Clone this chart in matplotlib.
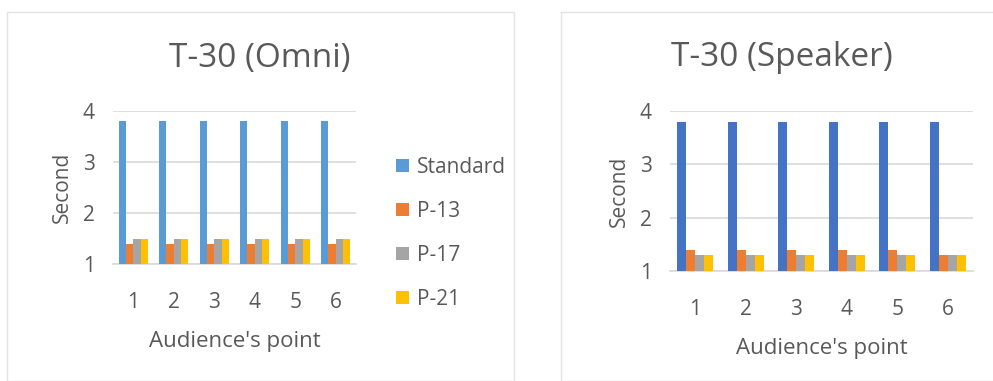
import matplotlib
matplotlib.use("Agg")
import matplotlib.pyplot as plt
import numpy as np
from matplotlib.patches import Rectangle

# ── Data ──────────────────────────────────────────────────────────────────────
points = ["1", "2", "3", "4", "5", "6"]
series = ["Standard", "P-13", "P-17", "P-21"]

omni_standard = [3.8, 3.8, 3.8, 3.8, 3.8, 3.8]
omni_p13 = [1.4, 1.4, 1.4, 1.4, 1.4, 1.4]
omni_p17 = [1.5, 1.5, 1.5, 1.5, 1.5, 1.5]
omni_p21 = [1.5, 1.5, 1.5, 1.5, 1.5, 1.5]

spk_standard = [3.8, 3.8, 3.8, 3.8, 3.8, 3.8]
spk_p13 = [1.4, 1.4, 1.4, 1.4, 1.4, 1.3]
spk_p17 = [1.3, 1.3, 1.3, 1.3, 1.3, 1.3]
spk_p21 = [1.3, 1.3, 1.3, 1.3, 1.3, 1.3]

# ── Style ─────────────────────────────────────────────────────────────────────
plt.rcParams["font.family"] = ["Open Sans", "DejaVu Sans"]
TXT = "#595959"
GRID = "#D9D9D9"
omni_colors = ["#5B9BD5", "#ED7D31", "#A5A5A5", "#FFC000"]
spk_colors = ["#4472C4", "#ED7D31", "#A5A5A5", "#FFC000"]

W, H = 993, 381
fig = plt.figure(figsize=(W / 100, H / 100), dpi=100)


def px_axes(x0, x1, ytop, ybot):
    return fig.add_axes([x0 / W, 1 - ybot / H, (x1 - x0) / W, (ybot - ytop) / H])


# chart frames
fig.patches.append(Rectangle((7 / W, 0), (514 - 7) / W, 1 - 12 / H,
                             transform=fig.transFigure, fill=False,
                             edgecolor="#E3E3E3", linewidth=1.0))
fig.patches.append(Rectangle((561 / W, 0), (1100 - 561) / W, 1 - 12 / H,
                             transform=fig.transFigure, fill=False,
                             edgecolor="#E3E3E3", linewidth=1.0))


def draw_panel(ax, values, colors, tickpad, labelpad):
    x = np.arange(len(points))
    w = 0.18
    bars = []
    for i, (vals, c) in enumerate(zip(values, colors)):
        heights = np.array(vals) - 1
        b = ax.bar(x + (i - 1.5) * w, heights, w, bottom=1, color=c,
                   linewidth=0, zorder=3, label=series[i])
        bars.append(b)
    ax.set_xlim(-0.5, len(points) - 0.5)
    ax.set_ylim(1, 4)
    ax.set_yticks([1, 2, 3, 4])
    ax.set_xticks(x)
    ax.set_xticklabels(points)
    ax.grid(axis="y", color=GRID, linewidth=1.2, zorder=0)
    for s in ["top", "right", "left"]:
        ax.spines[s].set_visible(False)
    ax.spines["bottom"].set_color(GRID)
    ax.spines["bottom"].set_linewidth(1.2)
    ax.tick_params(length=0, labelsize=15, colors=TXT)
    ax.tick_params(axis="x", pad=tickpad)
    ax.tick_params(axis="y", pad=13)
    ax.set_ylabel("Second", fontsize=15, color=TXT, labelpad=7)
    ax.set_xlabel("Audience's point", fontsize=16, color=TXT, labelpad=labelpad)
    return bars


ax1 = px_axes(113, 356, 111, 264)
bars = draw_panel(ax1, [omni_standard, omni_p13, omni_p17, omni_p21],
                  omni_colors, tickpad=20, labelpad=13)
fig.text(260 / W, 1 - 58 / H, "T-30 (Omni)", fontsize=24, color=TXT,
         ha="center", va="center")

ax2 = px_axes(670, 973, 111, 271)
draw_panel(ax2, [spk_standard, spk_p13, spk_p17, spk_p21], spk_colors,
           tickpad=20, labelpad=13)
fig.text(782 / W, 1 - 58 / H, "T-30 (Speaker)", fontsize=24, color=TXT,
         ha="center", va="center")

leg = fig.legend(handles=bars, loc="upper left",
                 bbox_to_anchor=(396 / W, 1 - 157 / H), frameon=False,
                 fontsize=15, labelcolor=TXT, handlelength=0.62,
                 handleheight=0.62, handletextpad=0.4, labelspacing=1.1,
                 borderpad=0, borderaxespad=0)

fig.savefig("out.png", dpi=100)
